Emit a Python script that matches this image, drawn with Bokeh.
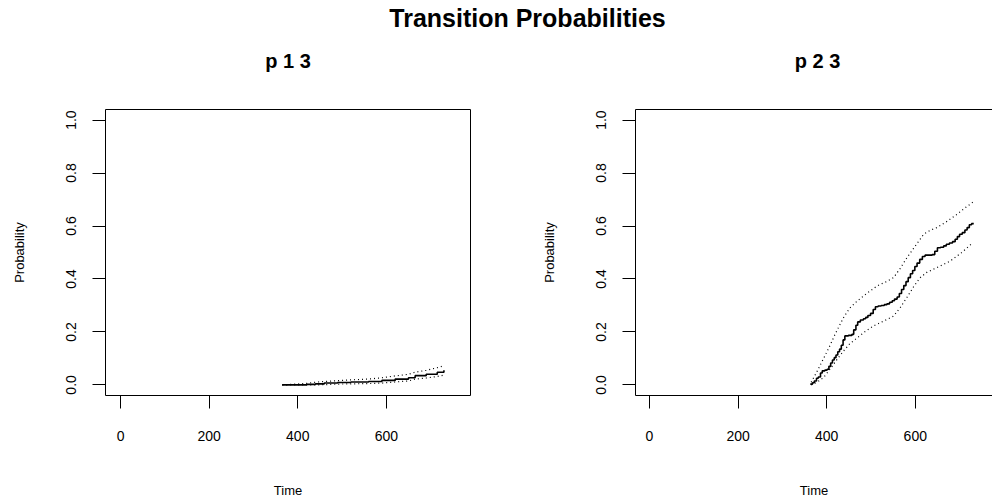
from bokeh.plotting import figure
from bokeh.layouts import column, row
from bokeh.models import Range1d, FixedTicker, NumeralTickFormatter, Label, LinearAxis
from bokeh.embed import file_html
from bokeh.resources import INLINE

FONT = "Liberation Sans"

# ---- data ----
main_title = "Transition Probabilities"
panel_titles = ["p 1 3", "p 2 3"]
x_label = "Time"
y_label = "Probability"
x_ticks = [0, 200, 400, 600]
y_ticks = [0.0, 0.2, 0.4, 0.6, 0.8, 1.0]

# p 1 3 : estimate (step) and pointwise confidence limits
t13 = [365, 420, 440, 460, 490, 520, 560, 590, 620, 650, 665, 690, 715, 730]
p13 = [0.000, 0.002, 0.004, 0.007, 0.009, 0.011, 0.013, 0.017, 0.022, 0.027, 0.035, 0.040, 0.048, 0.055]
p13_hi = [0.000, 0.006, 0.010, 0.013, 0.016, 0.019, 0.022, 0.027, 0.034, 0.040, 0.048, 0.055, 0.065, 0.072]
p13_lo = [0.000, 0.000, 0.000, 0.001, 0.003, 0.004, 0.005, 0.007, 0.011, 0.015, 0.022, 0.026, 0.032, 0.037]

# p 2 3 : estimate (step)
t23 = [363, 368, 372, 377, 381, 386, 390, 396, 401, 405, 409, 413, 417, 421, 425, 429, 433, 437, 441,
       449, 457, 461, 466, 470, 476, 483, 488, 493, 499, 505, 510, 516, 523, 530, 536, 542, 548, 553,
       559, 564, 569, 574, 579, 584, 589, 594, 599, 604, 610, 616, 622, 630, 638, 644, 650, 657, 664,
       670, 677, 684, 690, 695, 700, 706, 712, 717, 722, 727, 732]
p23 = [0.003, 0.008, 0.015, 0.025, 0.030, 0.045, 0.053, 0.056, 0.059, 0.070, 0.083, 0.094, 0.103, 0.113,
       0.125, 0.135, 0.150, 0.170, 0.185, 0.187, 0.191, 0.208, 0.225, 0.238, 0.245, 0.250, 0.255, 0.262,
       0.270, 0.285, 0.295, 0.298, 0.300, 0.303, 0.306, 0.312, 0.318, 0.324, 0.332, 0.345, 0.360, 0.375,
       0.390, 0.405, 0.420, 0.432, 0.447, 0.460, 0.474, 0.485, 0.490, 0.490, 0.492, 0.505, 0.518, 0.520,
       0.525, 0.531, 0.536, 0.541, 0.550, 0.560, 0.569, 0.575, 0.585, 0.594, 0.605, 0.609, 0.609]

# p 2 3 : confidence limits
t23_hi = [365, 378, 390, 405, 420, 438, 452, 469, 490, 514, 535, 551, 566, 581, 600, 619, 635, 649, 672,
          694, 712, 730]
p23_hi = [0.010, 0.050, 0.090, 0.140, 0.195, 0.254, 0.290, 0.317, 0.345, 0.374, 0.390, 0.405, 0.440,
          0.480, 0.525, 0.569, 0.585, 0.594, 0.618, 0.644, 0.668, 0.690]
t23_lo = [365, 380, 393, 410, 425, 438, 452, 469, 488, 506, 530, 551, 566, 581, 596, 611, 626, 641, 660,
          679, 705, 730]
p23_lo = [0.000, 0.012, 0.028, 0.065, 0.100, 0.128, 0.155, 0.178, 0.203, 0.223, 0.242, 0.260, 0.292,
          0.330, 0.370, 0.405, 0.425, 0.437, 0.452, 0.468, 0.500, 0.537]

HEADER_H = 78
PANEL_H = 422


def panel(width, mbl, mbr, xr, t, est, t_lo, lo, t_hi, hi, open_right=False):
    p = figure(width=width, height=PANEL_H, output_backend="svg", toolbar_location=None,
               x_range=Range1d(*xr), y_range=Range1d(-0.04, 1.04),
               min_border_left=mbl, min_border_right=mbr, min_border_top=31, min_border_bottom=105,
               x_axis_label=x_label, y_axis_label=y_label)
    p.grid.visible = False
    p.xaxis.ticker = FixedTicker(ticks=x_ticks)
    p.yaxis.ticker = FixedTicker(ticks=y_ticks)
    p.yaxis.formatter = NumeralTickFormatter(format="0.0")
    p.yaxis.major_label_orientation = "vertical"
    for ax in (p.xaxis[0], p.yaxis[0]):
        ax.axis_line_color = None
        ax.major_tick_out = 13
        ax.major_tick_in = 0
        ax.minor_tick_out = 0
        ax.minor_tick_in = 0
        ax.major_tick_line_color = "black"
        ax.major_label_text_font = FONT
        ax.major_label_text_font_size = "14px"
        ax.major_label_text_color = "black"
        ax.axis_label_text_font = FONT
        ax.axis_label_text_font_size = "13px"
        ax.axis_label_text_font_style = "normal"
        ax.axis_label_text_color = "black"
    p.xaxis.major_label_standoff = 22
    p.xaxis.axis_label_standoff = 39
    p.yaxis.major_label_standoff = 16
    p.yaxis.axis_label_standoff = 37
    if open_right:
        # box continues past the window edge: draw only left, bottom and top sides
        p.outline_line_color = None
        p.xaxis.axis_line_color = "black"
        p.yaxis.axis_line_color = "black"
        top = LinearAxis(ticker=FixedTicker(ticks=[]), axis_line_color="black",
                         major_tick_out=0, major_tick_in=0, minor_tick_out=0, minor_tick_in=0,
                         major_label_text_font_size="0px")
        p.add_layout(top, "above")
    else:
        p.outline_line_color = "black"
        p.outline_line_width = 1
        p.outline_line_alpha = 1
    p.line(t_hi, hi, line_color="black", line_width=1.2, line_dash="1 3")
    p.line(t_lo, lo, line_color="black", line_width=1.2, line_dash="1 3")
    p.step(t, est, mode="after", line_color="black", line_width=1.6)
    return p


left = panel(530, 105, 60, (-34, 790), t13, p13, t13, p13_lo, t13, p13_hi)
right = panel(462, 105, 0, (-31.6, 774.3), t23, p23, t23_lo, p23_lo, t23_hi, p23_hi, open_right=True)

header = figure(width=992, height=HEADER_H, output_backend="svg", toolbar_location=None,
                x_axis_type=None, y_axis_type=None, min_border=0,
                x_range=Range1d(0, 1), y_range=Range1d(0, 1))
header.outline_line_color = None
header.add_layout(Label(x=527, y=HEADER_H - 17.5, x_units="screen", y_units="screen", text=main_title,
                        text_align="center", text_baseline="middle", text_font=FONT,
                        text_font_size="25px", text_font_style="bold", text_color="black"))
for cx, txt in zip([287.5, 817], panel_titles):
    header.add_layout(Label(x=cx, y=HEADER_H - 60, x_units="screen", y_units="screen", text=txt,
                            text_align="center", text_baseline="middle", text_font=FONT,
                            text_font_size="20px", text_font_style="bold", text_color="black"))

layout = column(header, row(left, right))
open("out.html", "w").write(file_html(layout, INLINE))
